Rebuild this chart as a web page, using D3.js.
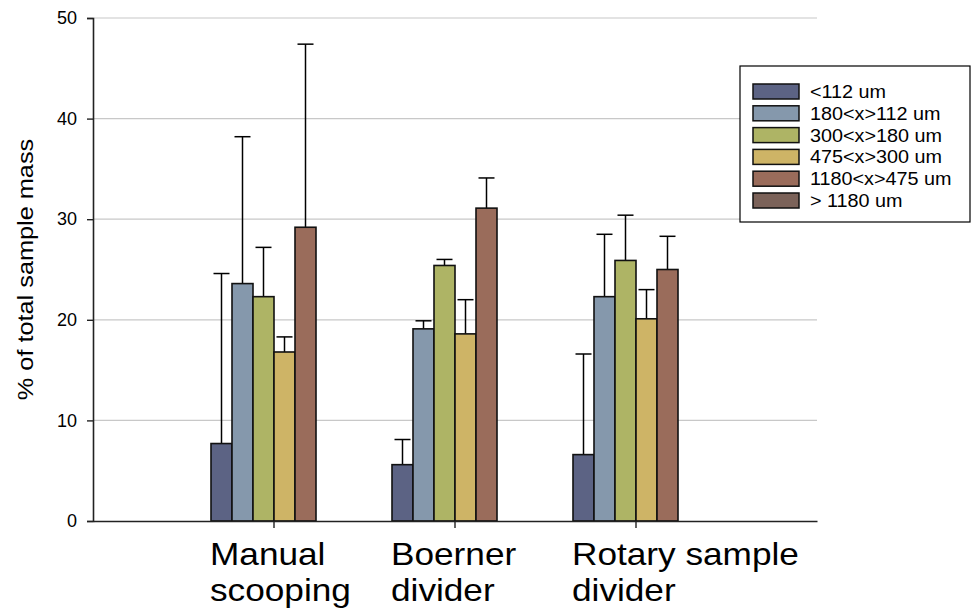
<!DOCTYPE html>
<html lang="en">
<head>
    <meta charset="UTF-8">
    <title>Sample mass by size fraction</title>
    <script src="https://cdn.jsdelivr.net/npm/d3@7/dist/d3.min.js"></script>
    <style>
        body { margin: 0; background: #fff; }
        svg text { font-family: "Liberation Sans", Arial, sans-serif; fill: #000; }
    </style>
</head>
<body>
<svg width="971" height="614"></svg>
<script>

    // data
    var categories = ["Manual scooping", "Boerner divider", "Rotary sample divider"];
    var categoryLines = [["Manual", "scooping"], ["Boerner", "divider"], ["Rotary sample", "divider"]];
    var seriesNames = ["<112 um", "180<x>112 um", "300<x>180 um", "475<x>300 um", "1180<x>475 um", "> 1180 um"];
    var seriesColors = ["#5c6384", "#8598ac", "#aeb465", "#ceb466", "#9a6c5b", "#7b6259"];

    var s112 = [7.7, 5.6, 6.6];
    var s180 = [23.6, 19.1, 22.3];
    var s300 = [22.3, 25.4, 25.9];
    var s475 = [16.8, 18.6, 20.1];
    var s1180 = [29.2, 31.1, 25.0];
    var sOver = [null, null, null];

    // upper error bar lengths
    var e112 = [16.9, 2.5, 10.0];
    var e180 = [14.6, 0.8, 6.2];
    var e300 = [4.9, 0.6, 4.5];
    var e475 = [1.5, 3.4, 2.9];
    var e1180 = [18.2, 3.0, 3.3];
    var eOver = [null, null, null];

    var yTicks = [0, 10, 20, 30, 40, 50];

    var values = [s112, s180, s300, s475, s1180, sOver];
    var errors = [e112, e180, e300, e475, e1180, eOver];

    var svg = d3.select("svg"),
        margin = {top: 18, right: 154, bottom: 93, left: 93},
        width = +svg.attr("width") - margin.left - margin.right,
        height = +svg.attr("height") - margin.top - margin.bottom;

    var x0 = d3.scaleBand().domain(categories).range([0, width]).paddingInner(0).paddingOuter(0.5);
    var groupWidth = 126;
    var x1 = d3.scaleBand().domain(d3.range(seriesNames.length)).range([0, groupWidth]);
    var y = d3.scaleLinear().domain([0, 50]).range([height, 0]);

    var g = svg.append("g")
        .attr("transform", "translate(" + margin.left + "," + margin.top + ")");

    // grid
    g.append("g")
        .selectAll("line")
        .data(yTicks.filter(function(t) { return t > 0; }))
        .enter().append("line")
        .attr("x1", 0).attr("x2", width)
        .attr("y1", function(d) { return y(d); })
        .attr("y2", function(d) { return y(d); })
        .attr("stroke", "#c8c8c8")
        .attr("stroke-width", 1.2);

    // flatten data
    var bars = [];
    categories.forEach(function(c, ci) {
        values.forEach(function(s, si) {
            if (s[ci] != null) bars.push({cat: c, s: si, v: s[ci], e: errors[si][ci]});
        });
    });

    function barX(d) {
        return x0(d.cat) + x0.bandwidth() / 2 - groupWidth / 2 + x1(d.s);
    }

    // error bars (plus direction only)
    var eb = g.append("g");
    eb.selectAll("line.v")
        .data(bars)
        .enter().append("line")
        .attr("class", "v")
        .attr("x1", function(d) { return barX(d) + x1.bandwidth() / 2; })
        .attr("x2", function(d) { return barX(d) + x1.bandwidth() / 2; })
        .attr("y1", function(d) { return y(d.v); })
        .attr("y2", function(d) { return y(d.v + d.e); })
        .attr("stroke", "#000").attr("stroke-width", 1.5);
    eb.selectAll("line.c")
        .data(bars)
        .enter().append("line")
        .attr("class", "c")
        .attr("x1", function(d) { return barX(d) + x1.bandwidth() / 2 - 8; })
        .attr("x2", function(d) { return barX(d) + x1.bandwidth() / 2 + 8; })
        .attr("y1", function(d) { return y(d.v + d.e); })
        .attr("y2", function(d) { return y(d.v + d.e); })
        .attr("stroke", "#000").attr("stroke-width", 1.5);

    g.append("g")
        .selectAll("rect")
        .data(bars)
        .enter().append("rect")
        .attr("x", barX)
        .attr("y", function(d) { return y(d.v); })
        .attr("width", x1.bandwidth())
        .attr("height", function(d) { return height - y(d.v); })
        .attr("fill", function(d) { return seriesColors[d.s]; })
        .attr("stroke", "#111")
        .attr("stroke-width", 1.6);

    // y axis
    var yAxis = g.append("g")
        .call(d3.axisLeft(y).tickValues(yTicks).tickSize(6).tickPadding(10));
    yAxis.select(".domain").attr("stroke", "#222").attr("stroke-width", 1.6);
    yAxis.selectAll(".tick line").attr("stroke", "#222").attr("stroke-width", 1.4);
    yAxis.selectAll(".tick text").style("font-size", "18px");

    // x axis
    var xAxis = g.append("g")
        .attr("transform", "translate(0," + height + ")")
        .call(d3.axisBottom(x0).tickSize(7).tickSizeOuter(0).tickFormat(""));
    xAxis.select(".domain").attr("stroke", "#222").attr("stroke-width", 1.6);
    xAxis.selectAll(".tick line").attr("stroke", "#222").attr("stroke-width", 1.4);

    var labels = g.append("g").selectAll("text")
        .data(categories)
        .enter().append("text")
        .attr("transform", function(d) {
            return "translate(" + (x0(d) + x0.bandwidth() / 2 - 64) + "," + (height + 44) + ") scale(1.1,1)";
        })
        .style("font-size", "32px");
    labels.selectAll("tspan")
        .data(function(d, i) { return categoryLines[i]; })
        .enter().append("tspan")
        .attr("x", 0)
        .attr("dy", function(d, i) { return i === 0 ? 0 : 36; })
        .text(function(d) { return d; });

    // y title
    svg.append("text")
        .attr("transform", "translate(33," + (margin.top + height / 2) + ") rotate(-90) scale(1.15,1)")
        .attr("text-anchor", "middle")
        .style("font-size", "22px")
        .text("% of total sample mass");

    // legend
    var lg = svg.append("g").attr("transform", "translate(740,66)");
    lg.append("rect")
        .attr("width", 230).attr("height", 156)
        .attr("fill", "#fff").attr("stroke", "#000").attr("stroke-width", 1.2);
    var item = lg.selectAll("g.item")
        .data(seriesNames)
        .enter().append("g")
        .attr("class", "item")
        .attr("transform", function(d, i) { return "translate(13," + (18 + i * 21.8) + ")"; });
    item.append("rect")
        .attr("width", 46).attr("height", 15)
        .attr("fill", function(d, i) { return seriesColors[i]; })
        .attr("stroke", "#111").attr("stroke-width", 1.5);
    item.append("text")
        .attr("transform", "translate(57,14) scale(1.1,1)")
        .style("font-size", "18px")
        .text(function(d) { return d; });

</script>
</body>
</html>
